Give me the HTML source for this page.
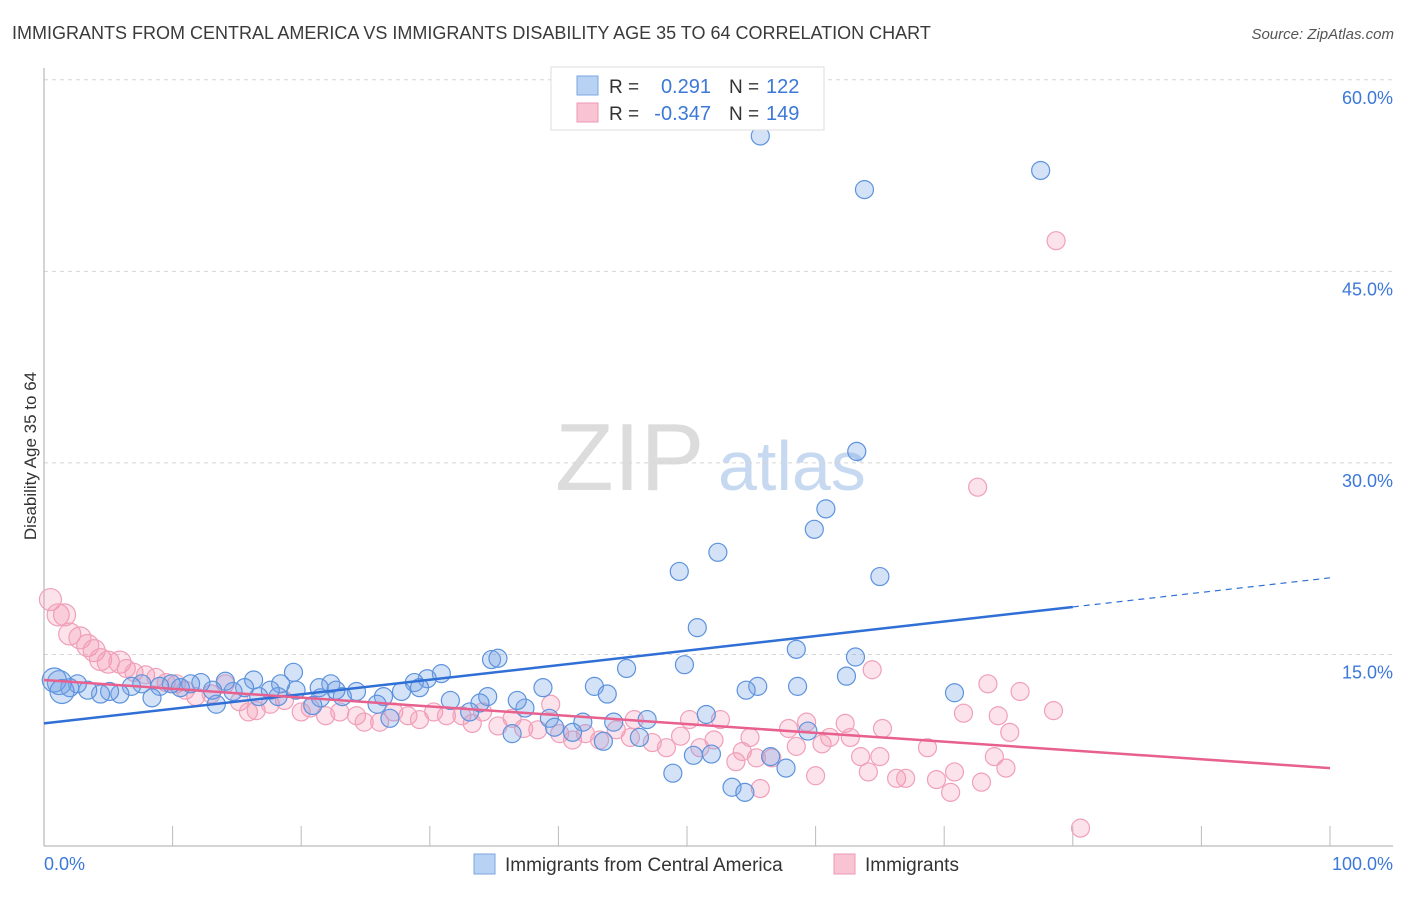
<!DOCTYPE html>
<html><head><meta charset="utf-8"><style>
body{margin:0;background:#fff;font-family:"Liberation Sans",sans-serif}
svg text{font-family:"Liberation Sans",sans-serif}
</style></head><body>
<svg id="chart" width="1406" height="892">
<text x="12" y="39" font-size="18" fill="#3a3a3a">IMMIGRANTS FROM CENTRAL AMERICA VS IMMIGRANTS DISABILITY AGE 35 TO 64 CORRELATION CHART</text>
<text x="1394" y="39" font-size="15" fill="#555" font-style="italic" text-anchor="end">Source: ZipAtlas.com</text>
<text x="36" y="456" font-size="17" fill="#333" text-anchor="middle" transform="rotate(-90 36 456)">Disability Age 35 to 64</text>
<g><text x="555" y="490" font-size="96" fill="#dcdcdc" font-family="Liberation Serif">ZIP</text><text x="718" y="490" font-size="70" fill="#c7d9f0">atlas</text></g>
<g id="grid"></g><g id="axes"></g><g id="pts"></g><g id="trends"></g>
<g>
<rect x="551" y="67" width="273" height="63" fill="#fff" stroke="#ddd"/>
<rect x="577" y="76" width="21" height="19" fill="#b8d2f3" stroke="#7aa6e0"/>
<rect x="577" y="103" width="21" height="19" fill="#f8c3d3" stroke="#ee9ab5"/>
<text x="609" y="93" font-size="19" fill="#333">R =</text><text x="711" y="93" font-size="20" fill="#3b78d8" text-anchor="end">0.291</text>
<text x="729" y="93" font-size="19" fill="#333">N =</text><text x="766" y="93" font-size="20" fill="#3b78d8">122</text>
<text x="609" y="120" font-size="19" fill="#333">R =</text><text x="711" y="120" font-size="20" fill="#3b78d8" text-anchor="end">-0.347</text>
<text x="729" y="120" font-size="19" fill="#333">N =</text><text x="766" y="120" font-size="20" fill="#3b78d8">149</text>
</g>
<g>
<rect x="474" y="854" width="21" height="20" fill="#b8d2f3" stroke="#7aa6e0"/>
<text x="505" y="871" font-size="19" fill="#333">Immigrants from Central America</text>
<rect x="834" y="854" width="21" height="20" fill="#f8c3d3" stroke="#ee9ab5"/>
<text x="865" y="871" font-size="19" fill="#333">Immigrants</text>
</g>
</svg>
<script>
const yTicks=[15,30,45,60];
const xTickLabels=["0.0%","100.0%"];
const blueX=[55.7,77.5,63.8,63.2,60.8,59.9,52.4,49.4,65.0,50.8,58.5,63.1,49.8,45.3,34.8,35.3,62.4,70.8,55.5,54.6,58.6,51.5,42.8,43.8,38.8,59.4,56.5,57.7,51.9,48.9,53.5,54.5,50.5,43.5,44.3,46.3,46.9,41.9,41.1,37.4,36.8,34.5,36.4,39.3,39.7,33.9,33.1,31.6,30.9,29.8,28.8,29.2,27.8,26.4,25.9,26.9,24.3,23.2,22.3,22.7,21.4,21.5,20.9,19.6,19.4,18.4,18.2,17.6,16.7,16.3,15.6,14.7,14.1,13.4,13.1,12.2,11.4,10.6,9.9,9.0,8.4,7.6,6.8,5.9,5.1,4.4,3.4,2.6,2.0,1.2,0.8,1.4];
const blueY=[55.6,52.9,51.4,30.9,26.4,24.8,23.0,21.5,21.1,17.1,15.4,14.8,14.2,13.9,14.6,14.7,13.3,12.0,12.5,12.2,12.5,10.3,12.5,11.9,12.4,9.0,7.0,6.1,7.2,5.7,4.6,4.2,7.1,8.2,9.7,8.5,9.9,9.7,8.9,10.8,11.4,11.7,8.8,10.0,9.3,11.2,10.5,11.4,13.5,13.1,12.8,12.4,12.1,11.7,11.1,10.0,12.1,11.7,12.7,12.2,12.4,11.6,11.0,12.2,13.6,12.7,11.7,12.2,11.7,13.0,12.4,12.1,12.9,11.1,12.2,12.8,12.7,12.4,12.7,12.5,11.6,12.7,12.5,11.9,12.1,11.9,12.2,12.7,12.4,12.8,13.0,12.1];
const pinkX=[78.7,72.6,0.5,1.1,1.6,2.0,2.8,3.4,3.9,4.4,5.0,5.9,6.4,7.0,7.9,8.7,9.5,10.3,11.0,11.8,13.0,14.1,15.2,15.9,16.5,17.6,18.7,20.0,20.7,21.9,23.0,24.3,24.9,26.1,27.2,28.3,29.2,30.3,31.3,32.5,33.3,34.1,35.3,36.4,37.3,38.4,39.4,40.1,41.1,42.1,43.2,44.5,45.6,45.9,47.3,48.4,49.5,50.2,51.0,52.1,52.6,53.8,54.3,54.9,55.4,55.7,56.6,57.9,58.5,59.3,60.0,60.5,61.1,62.3,62.7,63.5,64.1,64.4,65.0,65.2,66.3,67.0,68.7,69.4,70.5,70.8,71.5,72.9,73.4,74.2,73.9,74.8,75.1,75.9,78.5,80.6];
const pinkY=[47.4,28.1,19.3,18.1,18.1,16.6,16.3,15.7,15.3,14.6,14.4,14.4,13.9,13.6,13.4,13.2,12.8,12.7,12.2,11.7,11.9,12.7,11.3,10.5,10.6,11.1,11.4,10.5,10.8,10.2,10.5,10.2,9.7,9.7,10.5,10.2,9.9,10.5,10.2,10.2,9.6,10.5,9.4,10.0,9.2,9.1,11.1,8.8,8.3,8.8,8.3,9.1,8.5,9.9,8.1,7.7,8.6,9.9,7.7,8.3,9.9,6.6,7.4,8.5,6.9,4.5,6.9,9.2,7.8,9.7,5.5,8.0,8.5,9.6,8.5,7.0,5.8,13.8,7.0,9.2,5.3,5.3,7.7,5.2,4.2,5.8,10.4,5.0,12.7,10.2,7.0,6.1,8.9,12.1,10.6,1.4];
const blueTrend=[9.6,21.0];
const pinkTrend=[13.0,6.1];
const NS='http://www.w3.org/2000/svg';
const X=v=>44+v*12.86, Y=v=>846-v*12.77;
function mk(t,a,p){const e=document.createElementNS(NS,t);for(const k in a)e.setAttribute(k,a[k]);p.appendChild(e);return e;}
const grid=document.getElementById('grid');
yTicks.forEach(t=>{
 const l=mk('line',{x1:44,x2:1393,y1:Y(t),y2:Y(t),stroke:'#d5d5d5','stroke-dasharray':'4,4'},grid);
 
 
 const tx=mk('text',{x:1393,y:Y(t)+24,'font-size':18,fill:'#3b78d8','text-anchor':'end'},grid);
 tx.textContent=t.toFixed(1)+'%';
 
 
});
const ax=document.getElementById('axes');
mk('line',{x1:44,x2:44,y1:68,y2:846,stroke:'#aaa'},ax);
mk('line',{x1:44,x2:1393,y1:846,y2:846,stroke:'#aaa'},ax);
for(let i=1;i<=10;i++){mk('line',{x1:X(i*10),x2:X(i*10),y1:826,y2:846,stroke:'#bbb'},ax);}
const xl0=mk('text',{x:44,y:870,'font-size':18,fill:'#3b78d8'},ax);xl0.textContent=xTickLabels[0];


const xl1=mk('text',{x:1393,y:870,'font-size':18,fill:'#3b78d8','text-anchor':'end'},ax);xl1.textContent=xTickLabels[1];


const pts=document.getElementById('pts');
pinkX.forEach((x,i)=>{
 const c=mk('circle',{cx:X(x),cy:Y(pinkY[i]),r:x<6?11:9,fill:'rgba(244,150,180,0.28)',stroke:'#f0a0b9','stroke-width':1.2},pts);
 
 
});
blueX.forEach((x,i)=>{
 const c=mk('circle',{cx:X(x),cy:Y(blueY[i]),r:x<2?12:9,fill:'rgba(120,165,230,0.32)',stroke:'#5d93dd','stroke-width':1.2},pts);
 
 
});
const tr=document.getElementById('trends');
const by=x=>blueTrend[0]+(blueTrend[1]-blueTrend[0])*x/100;
const bl=mk('line',{x1:X(0),y1:Y(by(0)),x2:X(80),y2:Y(by(80)),stroke:'#2f6fd6','stroke-width':2.5},tr);


const bd=mk('line',{x1:X(80),y1:Y(by(80)),x2:X(100),y2:Y(by(100)),stroke:'#2f6fd6','stroke-width':1.2,'stroke-dasharray':'6,5'},tr);


const pl=mk('line',{x1:X(0),y1:Y(pinkTrend[0]),x2:X(100),y2:Y(pinkTrend[1]),stroke:'#e8608e','stroke-width':2.5},tr);


</script>
</body></html>
